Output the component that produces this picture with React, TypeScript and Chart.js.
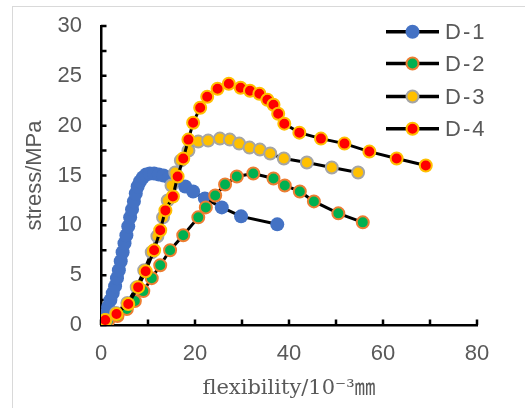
import React, { useEffect, useRef } from 'react';
import { Chart, registerables } from 'chart.js';

Chart.register(...registerables);

// ---- data ----
const seriesNames = ['D-1', 'D-2', 'D-3', 'D-4'];

const d1X = [0, 0.5, 1.0, 1.5, 2.0, 2.5, 3.0, 3.4, 3.8, 4.2, 4.6, 5.0, 5.4, 5.8, 6.2, 6.6, 7.0, 7.4, 7.8, 8.3, 8.9, 9.6, 10.4, 11.3, 12.3, 13.3, 14.5, 16.0, 17.9, 19.6, 22.1, 25.7, 29.8, 37.5];
const d1Y = [0, 0.5, 1.1, 1.8, 2.5, 3.2, 3.9, 4.7, 5.5, 6.4, 7.3, 8.2, 9.0, 9.9, 10.8, 11.6, 12.4, 13.2, 13.9, 14.4, 14.8, 15.1, 15.2, 15.2, 15.1, 15.0, 14.8, 14.5, 13.9, 13.4, 12.7, 11.8, 10.9, 10.1];

const d2X = [0, 1.5, 3.5, 5.5, 7.2, 9.0, 10.8, 12.6, 14.7, 17.5, 20.7, 22.3, 24.3, 26.4, 28.9, 32.4, 36.7, 39.1, 42.3, 45.3, 50.5, 55.7];
const d2Y = [0.1, 0.4, 0.9, 1.6, 2.4, 3.4, 4.7, 6.0, 7.5, 9.0, 10.8, 11.8, 13.0, 14.1, 14.9, 15.2, 14.7, 14.0, 13.4, 12.4, 11.2, 10.3];

const d3X = [0, 1.0, 3.2, 5.6, 7.6, 9.2, 10.8, 12.0, 13.2, 14.2, 15.0, 15.8, 17.0, 18.6, 20.7, 22.8, 25.3, 27.4, 29.4, 31.6, 33.8, 36.0, 38.9, 43.8, 49.1, 54.7];
const d3Y = [0.2, 0.5, 1.2, 2.2, 3.8, 5.5, 7.3, 8.9, 10.8, 12.5, 14.0, 15.3, 16.5, 17.5, 18.4, 18.5, 18.7, 18.6, 18.2, 17.8, 17.6, 17.2, 16.7, 16.3, 15.8, 15.3];

const d4X = [0, 0.9, 3.3, 5.8, 7.9, 9.5, 11.3, 12.6, 13.7, 15.3, 16.3, 17.5, 18.6, 19.6, 21.1, 22.6, 24.8, 27.2, 29.7, 31.7, 33.7, 35.4, 36.7, 37.7, 39.0, 42.2, 46.8, 51.8, 57.1, 62.9, 69.1];
const d4Y = [0.2, 0.5, 1.1, 2.1, 3.8, 5.4, 7.5, 9.5, 11.5, 12.9, 14.9, 16.7, 18.6, 20.3, 21.8, 22.9, 23.7, 24.2, 23.8, 23.5, 23.2, 22.6, 22.1, 21.2, 20.2, 19.3, 18.7, 18.2, 17.4, 16.7, 16.0];

const xMin = 0, xMax = 80, xStep = 20, xMinorStep = 10;
const yMin = 0, yMax = 30, yStep = 5, yMinorStep = 2.5;
const xTitle = 'flexibility/10⁻³㎜';
const yTitle = 'stress/MPa';

const fills = ['#4472C4', '#00B050', '#FFC000', '#FF0000'];
const strokes = ['#4472C4', '#ED7D31', '#A5A5A5', '#FFC000'];
const radii = [7, 6, 6, 6];
const strokeWidths = [0, 2, 2, 2];

const textColor = '#595959';

const toPoints = (xs: number[], ys: number[]) => xs.map((x, i) => ({ x, y: ys[i] }));
const allX = [d1X, d2X, d3X, d4X];
const allY = [d1Y, d2Y, d3Y, d4Y];

const innerTicks = {
  id: 'innerTicks',
  beforeDatasetsDraw(chart: any) {
    const { ctx, scales } = chart;
    const xs = scales.x, ys = scales.y;
    const x0 = xs.getPixelForValue(xMin);
    const y0 = ys.getPixelForValue(yMin);
    ctx.save();
    ctx.strokeStyle = '#000';
    ctx.lineWidth = 2.5;
    ctx.beginPath();
    for (let v = yMin; v <= yMax + 1e-9; v += yMinorStep) {
      const py = ys.getPixelForValue(v);
      ctx.moveTo(x0, py);
      ctx.lineTo(x0 + 5.5, py);
    }
    for (let v = xMin; v <= xMax + 1e-9; v += xMinorStep) {
      const px = xs.getPixelForValue(v);
      ctx.moveTo(px, y0);
      ctx.lineTo(px, y0 - 5.5);
    }
    ctx.stroke();
    ctx.restore();
  },
};

const customLegend = {
  id: 'customLegend',
  afterDraw(chart: any) {
    const { ctx } = chart;
    const lineX0 = 386, lineX1 = 439, markX = 412.5, textX = 445;
    const rowY = [31.7, 63.5, 96.5, 128.7];
    ctx.save();
    chart.data.datasets.forEach((ds: any, i: number) => {
      const y = rowY[i];
      ctx.strokeStyle = '#000';
      ctx.lineWidth = 3.5;
      ctx.beginPath();
      ctx.moveTo(lineX0, y);
      ctx.lineTo(lineX1, y);
      ctx.stroke();
      ctx.beginPath();
      ctx.arc(markX, y, ds.pointRadius, 0, Math.PI * 2);
      ctx.fillStyle = ds.pointBackgroundColor;
      ctx.fill();
      if (ds.pointBorderWidth > 0) {
        ctx.lineWidth = ds.pointBorderWidth;
        ctx.strokeStyle = ds.pointBorderColor;
        ctx.stroke();
      }
      ctx.fillStyle = textColor;
      ctx.font = '22px "Liberation Sans", sans-serif';
      ctx.textBaseline = 'middle';
      ctx.textAlign = 'left';
      try { (ctx as any).letterSpacing = '2px'; } catch (e) {}
      ctx.fillText(ds.label, textX, y + 1);
      try { (ctx as any).letterSpacing = '0px'; } catch (e) {}
    });
    ctx.restore();
  },
};

export default function App() {
  const canvasRef = useRef<HTMLCanvasElement | null>(null);

  useEffect(() => {
    if (!canvasRef.current) return;
    const datasets = seriesNames.map((name, i) => ({
      label: name,
      data: toPoints(allX[i], allY[i]),
      showLine: true,
      borderColor: '#000',
      borderWidth: 3,
      pointRadius: radii[i],
      pointHoverRadius: radii[i],
      pointBackgroundColor: fills[i],
      pointBorderColor: strokes[i],
      pointBorderWidth: strokeWidths[i],
      order: 3 - i,
    }));
    const chart = new Chart(canvasRef.current, {
      type: 'scatter',
      data: { datasets },
      options: {
        animation: false,
        responsive: false,
        maintainAspectRatio: false,
        layout: { padding: { left: 0, right: 48, top: 26, bottom: 0 } },
        plugins: { legend: { display: false }, tooltip: { enabled: false } },
        scales: {
          x: {
            type: 'linear',
            min: xMin,
            max: xMax,
            ticks: {
              stepSize: xStep,
              padding: 16,
              color: textColor,
              font: { family: '"Liberation Sans", sans-serif', size: 22 },
            },
            grid: { display: false, drawTicks: false },
            border: { display: true, color: '#000', width: 2.5 },
            title: {
              display: true,
              text: xTitle,
              color: textColor,
              font: { family: '"DejaVu Serif", "Noto Sans CJK JP", serif', size: 21 },
              padding: { top: 0, bottom: 7 },
            },
            afterFit: (s: any) => { s.height = 83; s.paddingLeft = 0; s.paddingRight = 0; },
          },
          y: {
            type: 'linear',
            min: yMin,
            max: yMax,
            ticks: {
              stepSize: yStep,
              padding: 19,
              color: textColor,
              font: { family: '"Liberation Sans", sans-serif', size: 22 },
            },
            grid: { display: false, drawTicks: false },
            border: { display: true, color: '#000', width: 2.5 },
            title: {
              display: true,
              text: yTitle,
              color: textColor,
              font: { family: '"Liberation Sans", sans-serif', size: 22 },
              padding: { top: 22, bottom: 0 },
            },
            afterFit: (s: any) => { s.width = 101; s.paddingTop = 0; s.paddingBottom = 0; },
          },
        },
      },
      plugins: [innerTicks, customLegend],
    });
    return () => chart.destroy();
  }, []);

  return (
    <div style={{ position: 'fixed', left: 0, top: 0, width: 525, height: 408, overflow: 'hidden', background: '#fff' }}>
      <div style={{ position: 'absolute', left: 12, top: 6, width: 700, height: 700, borderLeft: '1.5px solid #D9D9D9', borderTop: '1.5px solid #D9D9D9' }} />
      <canvas ref={canvasRef} width={525} height={408} style={{ position: 'absolute', left: 0, top: 0, width: 525, height: 408 }} />
    </div>
  );
}
